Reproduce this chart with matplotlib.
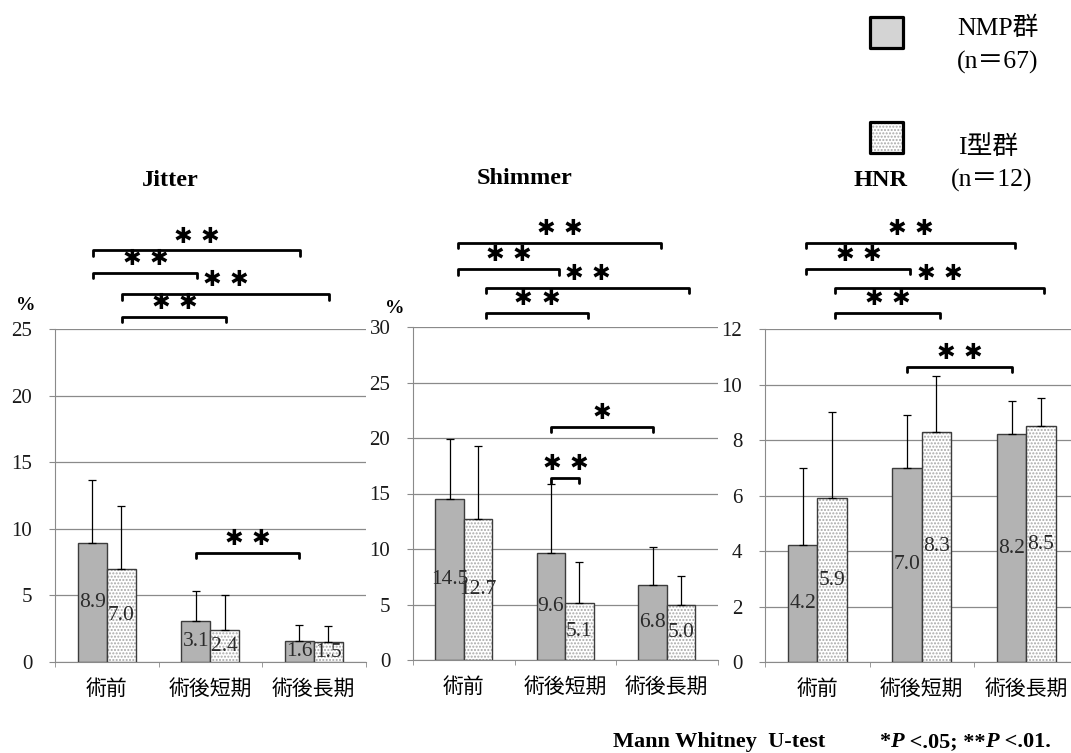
import numpy as np
import matplotlib.pyplot as plt
from matplotlib.patches import Rectangle

plt.rcParams['font.family'] = ['Liberation Serif', 'Noto Sans CJK JP']
plt.rcParams['hatch.linewidth'] = 1.0

W, H = 1071, 753

categories = ['術前', '術後短期', '術後長期']
group_names = ['NMP群', 'I型群']
group_n = [67, 12]

# mean and SD per time point
jitter_nmp = [8.9, 3.1, 1.6]
jitter_nmp_sd = [4.8, 2.2, 1.2]
jitter_i = [7.0, 2.4, 1.5]
jitter_i_sd = [4.7, 2.6, 1.2]

shimmer_nmp = [14.5, 9.6, 6.8]
shimmer_nmp_sd = [5.4, 6.3, 3.4]
shimmer_i = [12.7, 5.1, 5.0]
shimmer_i_sd = [6.6, 3.7, 2.6]

hnr_nmp = [4.2, 7.0, 8.2]
hnr_nmp_sd = [2.8, 1.9, 1.2]
hnr_i = [5.9, 8.3, 8.5]
hnr_i_sd = [3.1, 2.0, 1.0]

# significance brackets: (category a, group a, category b, group b, level, number of stars)
jitter_sig = [(0, 0, 2, 0, 30.9, 2), (0, 0, 1, 0, 29.2, 2),
              (0, 1, 2, 1, 27.6, 2), (0, 1, 1, 1, 25.9, 2),
              (1, 0, 2, 0, 8.2, 2)]
shimmer_sig = [(0, 0, 2, 0, 37.6, 2), (0, 0, 1, 0, 35.2, 2),
               (0, 1, 2, 1, 33.5, 2), (0, 1, 1, 1, 31.3, 2),
               (1, 0, 2, 0, 21.0, 1), (1, 0, 1, 1, 16.4, 2)]
hnr_sig = [(0, 0, 2, 0, 15.1, 2), (0, 0, 1, 0, 14.16, 2),
           (0, 1, 2, 1, 13.48, 2), (0, 1, 1, 1, 12.58, 2),
           (1, 0, 2, 0, 10.63, 2)]

GRID = '#8a8a8a'
EDGE = '#3c3c3c'
NMP_COLOR = '#b3b3b3'
DOT_COLOR = '#a8a8a8'


def px_box(x0, x1, ybot, ytop):
    return [x0 / W, 1 - ybot / H, (x1 - x0) / W, (ybot - ytop) / H]


def draw_panel(ax, nmp, nmp_sd, ivals, i_sd, ymax, ystep, sig, shift):
    x = np.arange(len(categories))
    w = 0.28
    ax.bar(x - w / 2, nmp, w, color=NMP_COLOR, edgecolor=EDGE, linewidth=1, zorder=3)
    # dotted fill, then outline on top so the dots stay light
    ax.bar(x + w / 2, ivals, w, color='white', edgecolor=DOT_COLOR, hatch='.....', linewidth=0, zorder=3)
    ax.bar(x + w / 2, ivals, w, fill=False, edgecolor=EDGE, linewidth=1, zorder=3)

    for xs, vals, sd in [(x - w / 2, nmp, nmp_sd), (x + w / 2, ivals, i_sd)]:
        ax.errorbar(xs, vals, yerr=[np.zeros(len(vals)), sd], fmt='none', ecolor='black',
                    elinewidth=0.9, capsize=3, capthick=0.9, zorder=4)
        for xi, v in zip(xs, vals):
            ax.text(xi, v / 2, f'{v:.1f}', ha='center', va='center', fontsize=15.5,
                    color='#2b2b2b', zorder=5)

    ax.set_xlim(-0.5, 2.5)
    ax.set_ylim(0, ymax)
    ax.set_yticks(np.arange(0, ymax + 0.01, ystep))
    ax.yaxis.grid(True, color=GRID, linewidth=0.9)
    ax.set_axisbelow(True)
    for side in ['top', 'right']:
        ax.spines[side].set_visible(False)
    for side in ['left', 'bottom']:
        ax.spines[side].set_color(GRID)
    ax.tick_params(axis='y', length=4.3, color=GRID, pad=12, labelsize=15, labelcolor='#1a1a1a')
    ax.set_xticks(x)
    ax.set_xticklabels(categories, fontsize=15)
    ax.tick_params(axis='x', which='major', length=0, pad=13)
    ax.set_xticks([-0.5, 0.5, 1.5, 2.5], minor=True)
    ax.tick_params(axis='x', which='minor', length=3.6, color=GRID)

    tick = ymax * 0.016
    for ca, ga, cb, gb, level, stars in sig:
        xa = ca + (ga - 0.5) * w
        xb = cb + (gb - 0.5) * w
        if level > ymax:
            xa += shift
            xb += shift
        ax.plot([xa, xa, xb, xb], [level - tick, level, level, level - tick], color='black',
                lw=2.0, clip_on=False, solid_joinstyle='round', solid_capstyle='round', zorder=6)
        for k in range(stars):
            dx = (k - (stars - 1) / 2) * 19.5
            ax.annotate('✱', ((xa + xb) / 2, level), xytext=(dx, 10), textcoords='offset points',
                        ha='center', va='center', fontsize=16, family='DejaVu Sans',
                        annotation_clip=False)


fig = plt.figure(figsize=(W / 100, H / 100), dpi=100)

ax1 = fig.add_axes(px_box(55, 365.5, 662, 329))
ax2 = fig.add_axes(px_box(413, 717.5, 660, 327))
ax3 = fig.add_axes(px_box(765, 1078.5, 662, 329))

draw_panel(ax1, jitter_nmp, jitter_nmp_sd, jitter_i, jitter_i_sd, 25, 5, jitter_sig, 0.01)
draw_panel(ax2, shimmer_nmp, shimmer_nmp_sd, shimmer_i, shimmer_i_sd, 30, 5, shimmer_sig, 0.08)
draw_panel(ax3, hnr_nmp, hnr_nmp_sd, hnr_i, hnr_i_sd, 12, 2, hnr_sig, 0.03)

# panel titles and units
for label, xp, yp in [('Jitter', 170, 181), ('Shimmer', 525, 179), ('HNR', 881, 181)]:
    fig.text(xp / W, 1 - yp / H, label, ha='center', va='center', fontsize=17.5, fontweight='bold')
for xp, yp in [(26, 305), (395, 308)]:
    fig.text(xp / W, 1 - yp / H, '%', ha='center', va='center', fontsize=14, fontweight='bold')

# legend boxes
fig.add_artist(Rectangle((870 / W, 1 - 48 / H), 33 / W, 31 / H, transform=fig.transFigure,
                         facecolor='#d4d4d4', edgecolor='black', lw=2.3, joinstyle='round'))
fig.add_artist(Rectangle((870 / W, 1 - 153 / H), 33 / W, 31 / H, transform=fig.transFigure,
                         facecolor='white', edgecolor=DOT_COLOR, hatch='.....', lw=0))
fig.add_artist(Rectangle((870 / W, 1 - 153 / H), 33 / W, 31 / H, transform=fig.transFigure,
                         fill=False, edgecolor='black', lw=2.3, joinstyle='round'))
fig.text(998 / W, 1 - 28 / H, group_names[0], ha='center', va='center', fontsize=18.5)
fig.text(998 / W, 1 - 62 / H, f'(n＝{group_n[0]})', ha='center', va='center', fontsize=18.5)
fig.text(988 / W, 1 - 147 / H, group_names[1], ha='center', va='center', fontsize=18.5)
fig.text(992 / W, 1 - 180 / H, f'(n＝{group_n[1]})', ha='center', va='center', fontsize=18.5)

# test note along the bottom
fig.text(613 / W, 1 - 742 / H, 'Mann Whitney  U-test', ha='left', va='center',
         fontsize=16, fontweight='bold')
prev = fig.text(879 / W, 1 - 742 / H, '*', ha='left', va='center', fontsize=16, fontweight='bold')
for piece, style in [('P', 'italic'), (' <.05; **', 'normal'), ('P', 'italic'), (' <.01.', 'normal')]:
    prev = ax3.annotate(piece, (1, 0), xycoords=prev, ha='left', va='bottom', fontsize=16,
                        fontweight='bold', style=style, annotation_clip=False)

fig.savefig('out.png', dpi=100)
